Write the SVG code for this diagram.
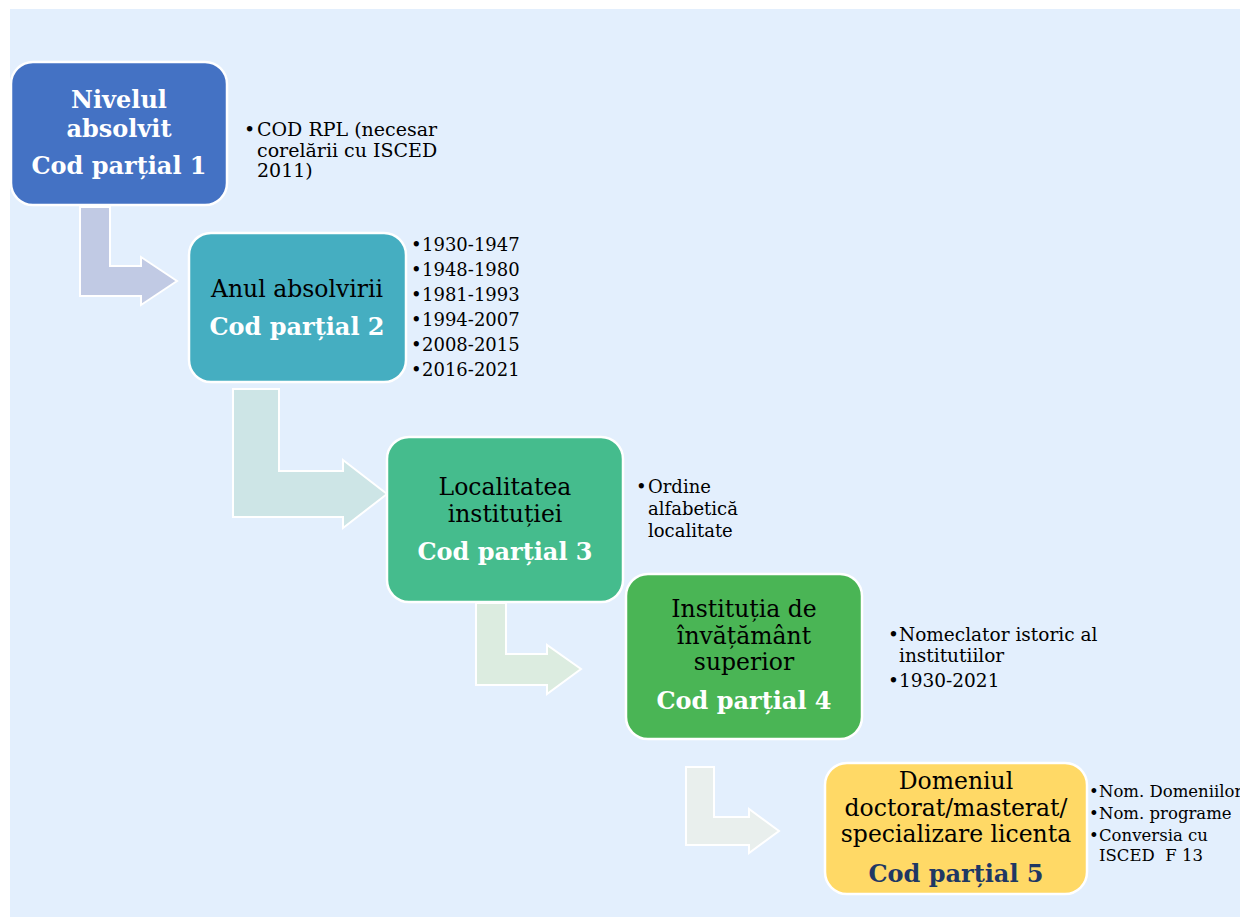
<svg xmlns="http://www.w3.org/2000/svg" width="1240" height="918" viewBox="0 0 1240 918">
<style>
  text { font-family: "DejaVu Serif", "Liberation Serif", serif; }
  .node { stroke: #ffffff; stroke-width: 2.5; }
  .arrow { stroke: #ffffff; stroke-width: 2; }
  .t { font-size: 23.5px; fill: #000000; text-anchor: middle; }
  .b { font-size: 24px; font-weight: bold; fill: #ffffff; text-anchor: middle; }
  .bl { fill: #000000; }
</style>
<rect x="0" y="0" width="1240" height="918" fill="#ffffff"/>
<rect x="10" y="9" width="1230" height="908" fill="#e3effd"/>

<g id="connectors">
  <polygon class="arrow" fill="#c1cae4" points="80,207 110,207 110,266 141,266 141,257 177,281 141,305 141,296 80,296"/>
  <polygon class="arrow" fill="#cde5e6" points="233,389 279,389 279,471 343,471 343,460 387,494 343,528 343,517 233,517"/>
  <polygon class="arrow" fill="#dcece0" points="476,603 506,603 506,654 547,654 547,645 581,669 547,694 547,685 476,685"/>
  <polygon class="arrow" fill="#e9efed" points="686,767 714,767 714,817 749,817 749,809 779,831 749,853 749,845 686,845"/>
</g>

<g id="node1">
  <rect class="node" x="11" y="62" width="216" height="143" rx="22" fill="#4472c4"/>
  <text class="b" x="119" y="108">Nivelul</text>
  <text class="b" x="119" y="137">absolvit</text>
  <text class="b" x="119" y="174">Cod parțial 1</text>
  <g class="bl" font-size="19">
    <text x="244" y="136">•</text>
    <text x="257" y="136">COD RPL (necesar</text>
    <text x="257" y="157">corelării cu ISCED</text>
    <text x="257" y="177">2011)</text>
  </g>
</g>

<g id="node2">
  <rect class="node" x="189" y="233" width="217" height="149" rx="22" fill="#45aec1"/>
  <text class="t" x="297" y="297">Anul absolvirii</text>
  <text class="b" x="297" y="335">Cod parțial 2</text>
  <g class="bl" font-size="18">
    <text x="411" y="251">•</text><text x="422" y="251">1930-1947</text>
    <text x="411" y="276">•</text><text x="422" y="276">1948-1980</text>
    <text x="411" y="301">•</text><text x="422" y="301">1981-1993</text>
    <text x="411" y="326">•</text><text x="422" y="326">1994-2007</text>
    <text x="411" y="351">•</text><text x="422" y="351">2008-2015</text>
    <text x="411" y="376">•</text><text x="422" y="376">2016-2021</text>
  </g>
</g>

<g id="node3">
  <rect class="node" x="387" y="437" width="236" height="165" rx="22" fill="#45bc8d"/>
  <text class="t" x="505" y="495">Localitatea</text>
  <text class="t" x="505" y="522">instituției</text>
  <text class="b" x="505" y="560">Cod parțial 3</text>
  <g class="bl" font-size="18">
    <text x="636" y="493">•</text>
    <text x="648" y="493">Ordine</text>
    <text x="648" y="515">alfabetică</text>
    <text x="648" y="537">localitate</text>
  </g>
</g>

<g id="node4">
  <rect class="node" x="626" y="574" width="236" height="165" rx="22" fill="#4ab555"/>
  <text class="t" x="744" y="617">Instituția de</text>
  <text class="t" x="744" y="644">învățământ</text>
  <text class="t" x="744" y="670">superior</text>
  <text class="b" x="744" y="709">Cod parțial 4</text>
  <g class="bl" font-size="18.5">
    <text x="888" y="641">•</text>
    <text x="899" y="641">Nomeclator istoric al</text>
    <text x="899" y="662">institutiilor</text>
    <text x="888" y="687">•</text>
    <text x="899" y="687">1930-2021</text>
  </g>
</g>

<g id="node5">
  <rect class="node" x="825" y="763" width="262" height="131" rx="22" fill="#ffd966"/>
  <text class="t" x="956" y="789">Domeniul</text>
  <text class="t" x="956" y="816">doctorat/masterat/</text>
  <text class="t" x="956" y="842">specializare licenta</text>
  <text class="b" x="956" y="882" style="fill:#1f3864">Cod parțial 5</text>
  <g class="bl" font-size="16.5">
    <text x="1089" y="797">•</text><text x="1099" y="797">Nom. Domeniilor</text>
    <text x="1089" y="819">•</text><text x="1099" y="819">Nom. programe</text>
    <text x="1089" y="841">•</text><text x="1099" y="841">Conversia cu</text>
    <text x="1099" y="861">ISCED&#160; F 13</text>
  </g>
</g>
</svg>
